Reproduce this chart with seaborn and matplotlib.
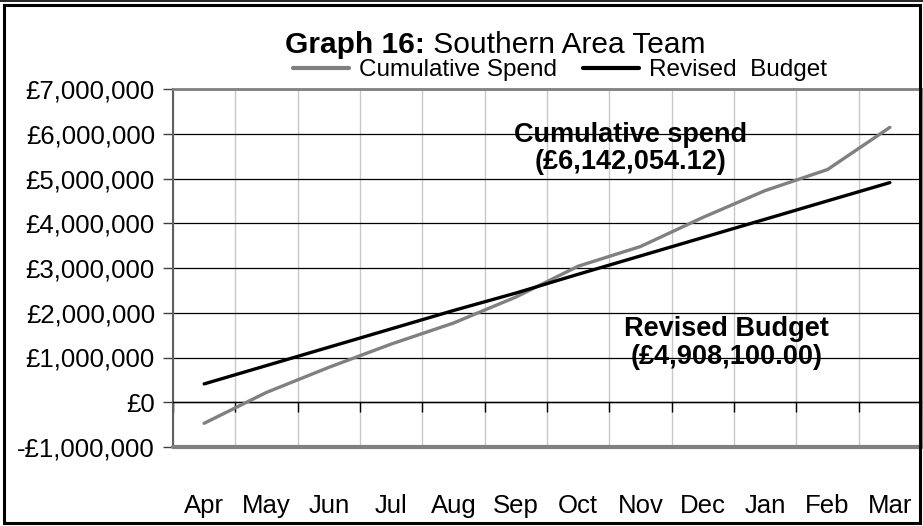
import matplotlib
matplotlib.use("Agg")
import matplotlib.pyplot as plt
import matplotlib.ticker as mticker
from matplotlib.lines import Line2D
import pandas as pd
import seaborn as sns

months = ["Apr", "May", "Jun", "Jul", "Aug", "Sep",
          "Oct", "Nov", "Dec", "Jan", "Feb", "Mar"]
cumulative_spend = [-470000, 220000, 780000, 1300000, 1770000, 2350000,
                    3040000, 3480000, 4130000, 4730000, 5200000, 6142054.12]
revised_budget = [410000, 820000, 1230000, 1640000, 2050000, 2440000,
                  2860000, 3270000, 3680000, 4090000, 4500000, 4908100.00]
series_names = ["Cumulative Spend", "Revised  Budget"]
y_ticks = [-1000000, 0, 1000000, 2000000, 3000000, 4000000, 5000000, 6000000, 7000000]

df = pd.DataFrame({
    "month": months * 2,
    "pos": list(range(len(months))) * 2,
    "value": cumulative_spend + revised_budget,
    "series": [series_names[0]] * len(months) + [series_names[1]] * len(months),
})

sns.set_theme(style="white")
plt.rcParams["font.family"] = ["Liberation Sans", "DejaVu Sans"]
plt.rcParams["text.color"] = "black"

fig = plt.figure(figsize=(9.23, 5.26), dpi=100)
ax = fig.add_axes([173 / 923, 1 - 447 / 526, (921 - 173) / 923, (447 - 89) / 526])

palette = {series_names[0]: "#808080", series_names[1]: "#000000"}
sns.lineplot(data=df, x="pos", y="value", hue="series", palette=palette,
             linewidth=2.4, legend=False, ax=ax, zorder=5)

ax.set_xlim(-0.5, len(months) - 0.5)
ax.set_ylim(y_ticks[0], y_ticks[-1])
ax.set_xlabel("")
ax.set_ylabel("")

# y axis
ax.set_yticks(y_ticks)
ax.yaxis.set_major_formatter(mticker.FuncFormatter(
    lambda v, _: ("-£{:,.0f}".format(-v) if v < 0 else "£{:,.0f}".format(v))))
ax.tick_params(axis="y", which="major", direction="out", length=7, width=1,
               color="#404040", labelsize=18.5, labelcolor="black", pad=6, left=True)
ax.yaxis.grid(True, color="#000000", linewidth=0.9)

# x axis: crossing at zero, labels low, ticks at boundaries
ax.set_xticks(range(len(months)))
ax.set_xticklabels(months)
ax.set_xticks([i - 0.5 for i in range(len(months) + 1)], minor=True)
ax.tick_params(axis="x", which="major", length=0, labelsize=18.5,
               labelcolor="black", pad=66)
ax.tick_params(axis="x", which="minor", direction="out", length=7, width=1,
               color="#000000", bottom=True)
ax.xaxis.grid(True, which="minor", color="#c8c8c8", linewidth=1)
ax.xaxis.grid(False, which="major")

ax.spines["bottom"].set_position(("data", 0))
ax.spines["bottom"].set_color("#000000")
ax.spines["bottom"].set_linewidth(1)
ax.spines["left"].set_color("#606060")
ax.spines["left"].set_linewidth(1.5)
for side in ["top", "right"]:
    ax.spines[side].set_color("#808080")
    ax.spines[side].set_linewidth(2)
ax.axhline(y_ticks[0], color="#808080", linewidth=3, zorder=6, clip_on=False)

# annotations
ax.text(0.612, 0.835, "Cumulative spend\n(£6,142,054.12)", transform=ax.transAxes,
        ha="center", va="center", fontsize=19.5, fontweight="bold",
        linespacing=1.05, zorder=7)
ax.text(0.74, 0.29, "Revised Budget\n(£4,908,100.00)", transform=ax.transAxes,
        ha="center", va="center", fontsize=19.5, fontweight="bold",
        linespacing=1.1, zorder=7)

# title
fig.text(425 / 923, 1 - 45 / 526, "Graph 16:", ha="right", va="center",
         fontsize=21.5, fontweight="bold")
fig.text(425 / 923, 1 - 45 / 526, " Southern Area Team", ha="left", va="center",
         fontsize=21.5)

# legend
handles = [Line2D([0], [0], color=palette[n], linewidth=3) for n in series_names]
fig.legend(handles, series_names, loc="center", ncol=2,
           bbox_to_anchor=(560 / 923, 1 - 70 / 526), frameon=False,
           fontsize=17.5, handlelength=2.3, handletextpad=0.4, columnspacing=1.1,
           borderpad=0, borderaxespad=0)

# outer frame
fig.add_artist(Line2D([0.0, 1.0], [1 - 1 / 526, 1 - 1 / 526],
                      color="black", linewidth=1.2, transform=fig.transFigure))
fig.add_artist(plt.Rectangle((4 / 923, 3 / 526), 916 / 923, 518 / 526,
                             fill=False, edgecolor="black", linewidth=2.2,
                             transform=fig.transFigure))

fig.savefig("out.png", dpi=100)
